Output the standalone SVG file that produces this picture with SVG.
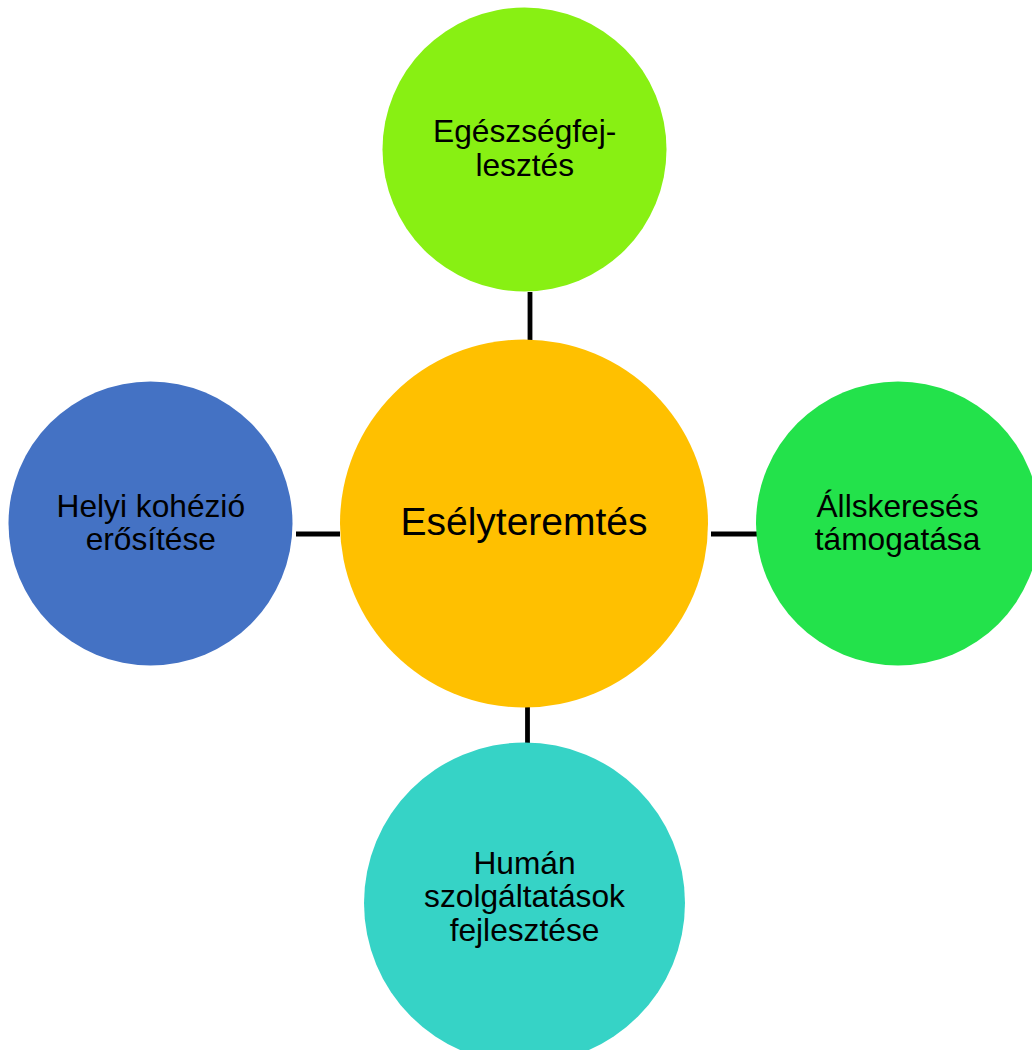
<svg xmlns="http://www.w3.org/2000/svg" width="1032" height="1050" viewBox="0 0 1032 1050">
<style>
.t{font-family:"Liberation Sans",Arial,sans-serif;font-size:31.7px;fill:#000;text-anchor:middle}
.c{font-size:39px}
.ln{stroke:#000;stroke-width:4.8;fill:none}
</style>
<rect width="1032" height="1050" fill="#fff"/>
<g id="connectors">
<line class="ln" x1="530" y1="292" x2="530" y2="343"/>
<line class="ln" x1="296" y1="534" x2="340" y2="534"/>
<line class="ln" x1="711" y1="534" x2="761" y2="534"/>
<line class="ln" x1="527.5" y1="702" x2="527.5" y2="743"/>
</g>
<g id="center">
<circle cx="524" cy="523.5" r="184" fill="#FFC000"/>
<text class="t c" x="524" y="535">Esélyteremtés</text>
</g>
<g id="top">
<circle cx="524.5" cy="149.5" r="142" fill="#88F013"/>
<text class="t" x="524.7" y="142.3">Egészségfej-</text>
<text class="t" x="524.7" y="175.7">lesztés</text>
</g>
<g id="left">
<circle cx="150.5" cy="523.5" r="142" fill="#4472C4"/>
<text class="t" x="150.8" y="516.7">Helyi kohézió</text>
<text class="t" x="150.8" y="550">erősítése</text>
</g>
<g id="right">
<circle cx="898" cy="523.5" r="142" fill="#23E24B"/>
<text class="t" x="897.5" y="516.7">Állskeresés</text>
<text class="t" x="897.5" y="550">támogatása</text>
</g>
<g id="bottom">
<circle cx="524.5" cy="903" r="160.5" fill="#36D3C6"/>
<text class="t" x="524.5" y="874">Humán</text>
<text class="t" x="524.5" y="907.3">szolgáltatások</text>
<text class="t" x="524.5" y="940.5">fejlesztése</text>
</g>
</svg>
